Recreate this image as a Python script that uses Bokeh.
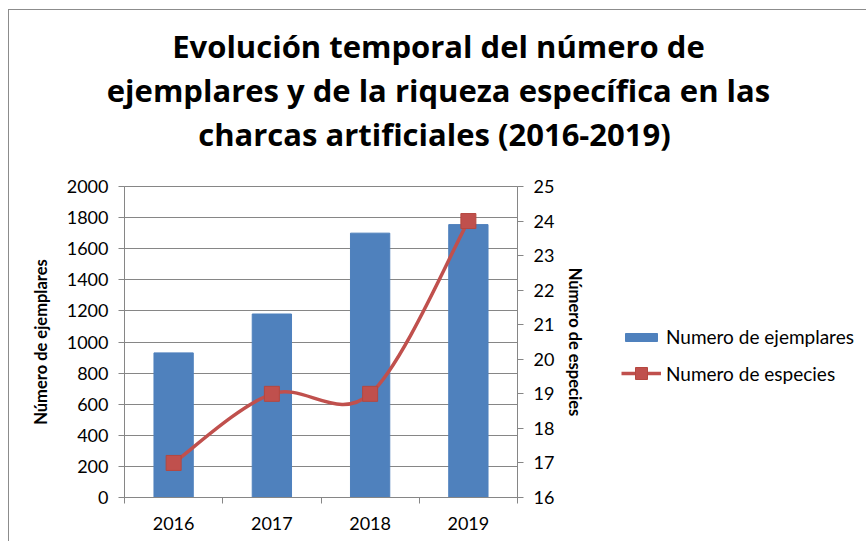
import numpy as np
from bokeh.plotting import figure
from bokeh.layouts import column, row
from bokeh.models import (Range1d, LinearAxis, SingleIntervalTicker, FixedTicker,
                          Legend, LegendItem)
from bokeh.core.properties import value
from bokeh.embed import file_html
from bokeh.resources import INLINE

# ---- data ----
years = ["2016", "2017", "2018", "2019"]
ejemplares = [930, 1180, 1700, 1755]
especies = [17, 19, 19, 24]
title_lines = ["Evolución temporal del número de",
               "ejemplares y de la riqueza específica en las",
               "charcas artificiales  (2016-2019)"]
series_names = ["Numero de ejemplares", "Numero de especies"]
left_label = "Número de ejemplares"
right_label = "Número de especies"

BLUE = "#4F81BD"
RED = "#C0504D"
GRAY = "#868686"
FONT = "Lato"

TOTAL_W = 857
TITLE_H = 164
MAIN_H = 367
MAIN_W = 590


def blank(fig):
    fig.axis.visible = False
    fig.grid.visible = False
    fig.outline_line_color = None
    fig.min_border = 0


# ---- title panel ----
tf = figure(width=TOTAL_W, height=TITLE_H, output_backend="svg", toolbar_location=None,
            x_range=Range1d(0, TOTAL_W), y_range=Range1d(0, TITLE_H))
blank(tf)
tf.text(x=[429] * 3, y=[129, 85, 41], text=title_lines, text_align="center",
        text_baseline="alphabetic", text_font=value("Open Sans"), text_font_size="31px",
        text_font_style="bold", text_color="#000000")

# ---- main chart ----
xpos = list(range(len(years)))
p = figure(width=MAIN_W, height=MAIN_H, output_backend="svg", toolbar_location=None,
           x_range=Range1d(-0.5, len(years) - 0.5), y_range=Range1d(0, 2000),
           min_border_left=115, min_border_right=MAIN_W - 508, min_border_top=12,
           min_border_bottom=44)
p.outline_line_color = GRAY
p.xgrid.visible = False

yax = p.yaxis[0]
yax.ticker = SingleIntervalTicker(interval=200)
p.ygrid.ticker = yax.ticker
p.ygrid.grid_line_color = GRAY
yax.axis_label = left_label

p.extra_y_ranges = {"sp": Range1d(16, 25)}
rax = LinearAxis(y_range_name="sp", ticker=SingleIntervalTicker(interval=1),
                 axis_label=right_label)
p.add_layout(rax, "right")

xax = p.xaxis[0]
xax.ticker = FixedTicker(ticks=xpos, minor_ticks=[i - 0.5 for i in range(len(years) + 1)])
xax.major_label_overrides = {i: y for i, y in enumerate(years)}
xax.major_tick_out = 0
xax.major_tick_in = 0
xax.minor_tick_out = 6
xax.minor_tick_in = 0
xax.major_label_standoff = 13

for ax in (yax, rax, xax):
    ax.axis_line_color = GRAY
    ax.major_tick_line_color = GRAY
    ax.minor_tick_line_color = GRAY
    ax.major_label_text_font = FONT
    ax.major_label_text_font_size = "18px"
    ax.major_label_text_color = "#000000"
    ax.axis_label_text_font = FONT
    ax.axis_label_text_font_size = "16.5px"
    ax.axis_label_text_font_style = "bold"
    ax.axis_label_text_color = "#000000"
for ax in (yax, rax):
    ax.major_tick_out = 6
    ax.major_tick_in = 0
    ax.minor_tick_out = 0
    ax.minor_tick_in = 0
    ax.major_label_standoff = 10
yax.axis_label_standoff = 13
rax.axis_label_standoff = 8

p.vbar(x=xpos, top=ejemplares, width=0.4, color=BLUE)

# smoothed line (Catmull-Rom as cubic Bezier segments)
xs = np.array(xpos, dtype=float)
ys = np.array(especies, dtype=float)
n = len(xs)
qx = np.concatenate([[xs[0]], xs, [xs[-1]]])
qy = np.concatenate([[ys[0]], ys, [ys[-1]]])
cx0 = qx[1:n] + (qx[2:n + 1] - qx[0:n - 1]) / 6
cy0 = qy[1:n] + (qy[2:n + 1] - qy[0:n - 1]) / 6
cx1 = qx[2:n + 1] - (qx[3:n + 2] - qx[1:n]) / 6
cy1 = qy[2:n + 1] - (qy[3:n + 2] - qy[1:n]) / 6
p.bezier(x0=xs[:-1], y0=ys[:-1], x1=xs[1:], y1=ys[1:],
         cx0=cx0, cy0=cy0, cx1=cx1, cy1=cy1,
         line_color=RED, line_width=3.5, y_range_name="sp")
p.scatter(x=xpos, y=especies, marker="square", size=15,
          fill_color=RED, line_color="#B5473F", y_range_name="sp")

# ---- legend panel (same series, drawn out of view; only the legend shows) ----
lf = figure(width=TOTAL_W - MAIN_W, height=MAIN_H, output_backend="svg",
            toolbar_location=None, x_range=Range1d(-200, -199), y_range=Range1d(-200, -199))
blank(lf)
lg_bar = lf.vbar(x=xpos, top=ejemplares, width=0.4, color=BLUE)
lg_line = lf.line(x=xpos, y=especies, line_color=RED, line_width=3.5)
lg_pts = lf.scatter(x=xpos, y=especies, marker="square", fill_color=RED,
                    line_color="#B5473F")


def mk_legend(items, gh, loc):
    lg = Legend(items=items, location=loc, glyph_width=40, glyph_height=gh,
                label_height=gh, padding=0, margin=0, spacing=0,
                label_standoff=5, border_line_alpha=0, background_fill_alpha=0,
                label_text_font=FONT, label_text_font_size="19px",
                label_text_color="#000000")
    lf.add_layout(lg)
    return lg


mk_legend([LegendItem(label=series_names[0], renderers=[lg_bar])], 10, (22, 149))
mk_legend([LegendItem(label=series_names[1], renderers=[lg_line, lg_pts])], 30, (22, 109))

layout = column(tf, row(p, lf, spacing=0), spacing=0)
layout.styles = {"margin-left": "8px", "margin-top": "9px",
                 "border-top": "1px solid #8c8c8c", "border-left": "1px solid #8c8c8c"}

open("out.html", "w").write(file_html(layout, INLINE))
